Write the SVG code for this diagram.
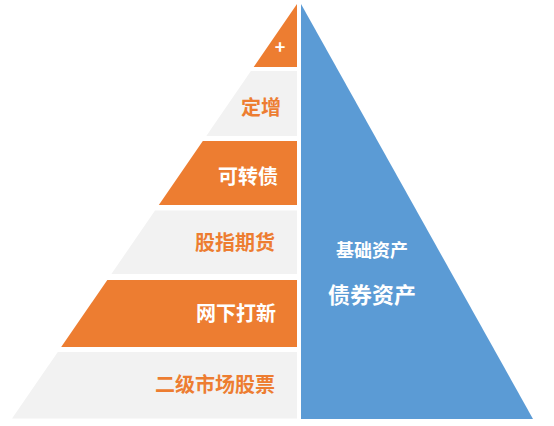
<svg xmlns="http://www.w3.org/2000/svg" width="554" height="426" viewBox="0 0 554 426">
<style>
.o{fill:#ED7D31}
.g{fill:#F2F2F2}
.b{fill:#5B9BD5}
text{font-family:"Noto Sans CJK SC","Noto Sans",sans-serif;font-weight:bold}
.tw{fill:#FFFFFF;font-size:20px;text-anchor:end}
.to{fill:#ED7D31;font-size:20px;text-anchor:end}
.tb{fill:#FFFFFF;text-anchor:middle}
</style>
<rect width="554" height="426" fill="#FFFFFF"/>
<g id="blue">
<polygon class="b" points="301,4 533,419 301,419"/>
<text class="tb" x="372" y="257" font-size="18">基础资产</text>
<text class="tb" x="372" y="303" font-size="22">债券资产</text>
</g>
<g id="band1">
<polygon class="o" points="297,4 297,67 253.7,67"/>
<text x="280" y="54" style="fill:#FFFFFF;font-size:18px;text-anchor:middle">+</text>
</g>
<g id="band2">
<polygon class="g" points="250.9,71 297,71 297,136 206.3,136"/>
<text class="to" x="281" y="115">定增</text>
</g>
<g id="band3">
<polygon class="o" points="202.8,141 297,141 297,205 158.8,205"/>
<text class="tw" x="278" y="184">可转债</text>
</g>
<g id="band4">
<polygon class="g" points="155,210.5 297,210.5 297,274 111.4,274"/>
<text class="to" x="275" y="250">股指期货</text>
</g>
<g id="band5">
<polygon class="o" points="107.3,280 297,280 297,347 61.2,347"/>
<text class="tw" x="276" y="321">网下打新</text>
</g>
<g id="band6">
<polygon class="g" points="57.8,352 297,352 297,418.5 12,418.5"/>
<text class="to" x="275" y="392">二级市场股票</text>
</g>
<g id="connectors"/>
</svg>
